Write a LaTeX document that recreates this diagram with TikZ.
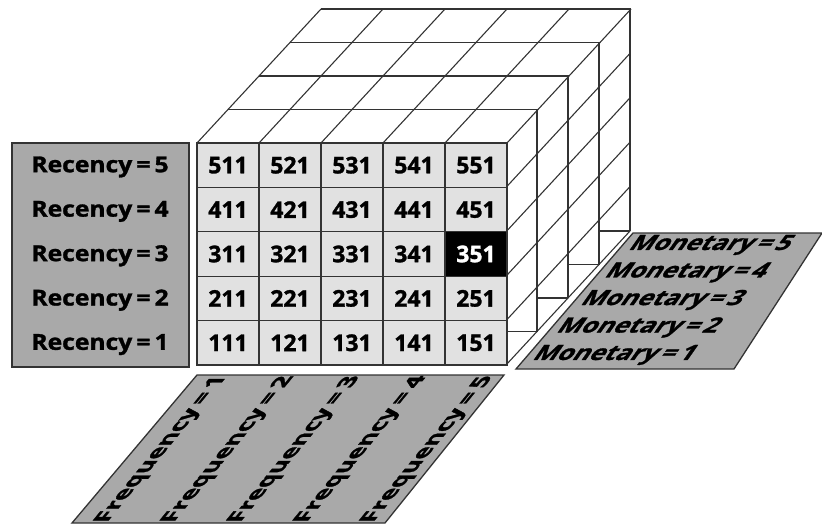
\documentclass[tikz,border=0pt]{standalone}
\usepackage{fontspec}
\setmainfont{Open Sans}[BoldFeatures={FakeBold=1.3}]
\definecolor{platefill}{HTML}{A9A9A9}
\definecolor{cellfill}{HTML}{E1E1E1}
\definecolor{wirecol}{HTML}{333333}
\begin{document}
\begin{tikzpicture}[x=1pt,y=-1pt,
cell/.style={draw=wirecol,line width=1.3pt,fill=cellfill,minimum width=62pt,minimum height=44.4pt,inner sep=0pt,outer sep=0pt,font=\fontsize{23}{23}\selectfont\bfseries},
wire/.style={draw=wirecol,line width=1.1pt},
plate/.style={fill=platefill,draw=wirecol,line width=1.3pt},
rlabel/.style={inner sep=0pt,xscale=1.12,font=\fontsize{22}{22}\selectfont\bfseries},
flabel/.style={inner sep=0pt,xslant=0.82,rotate=90,font=\fontsize{22}{22}\selectfont\bfseries},
mlabel/.style={inner sep=0pt,xslant=0.7,xscale=1.2,font=\fontsize{21}{21}\selectfont\bfseries}]
\useasboundingbox (0,0) rectangle (822,527);
\foreach \k in {1,...,4} {
\draw[wire] ({197+31*\k},{143-33.5*\k}) -- ({506+31*\k},{143-33.5*\k}) -- ({506+31*\k},{365-33.5*\k});
}
\foreach \i in {0,...,5} {
\draw[wire] ({197+62*\i},143) -- ({321+62*\i},9);
}
\foreach \j in {1,...,5} {
\draw[wire] (506,{143+44.4*\j}) -- (630,{9+44.4*\j});
}
\foreach \k in {0,...,3} {
\draw[wire] ({506+31*\k},{331.5-33.5*\k}) -- ({537+31*\k},{331.5-33.5*\k});
}
\foreach \r in {1,2,4,5} {
\foreach \f in {1,...,5} {
\node[cell] (c\r\f) at ({166+62*\f},{387.2-44.4*\r}) {\r\f1};
}}
\foreach \f in {1,...,4} {
\node[cell] (c3\f) at ({166+62*\f},254) {3\f1};
}
\node[cell,fill=black,text=white] (c35) at (476,254) {351};
\draw[plate] (12,143) rectangle (189,367);
\foreach \r in {1,...,5} {
\node[rlabel] (rec\r) at (100,{389-44.4*\r}) {Recency\,=\,\r};
}
\draw[plate] (197,375) -- (504,375) -- (385,523) -- (72,523) -- cycle;
\foreach \f in {1,...,5} {
\node[flabel] (freq\f) at ({95.5+66.5*\f},449) {Frequency\,=\,\f};
}
\draw[plate] (633,233) -- (822,233) -- (734,369) -- (516,369) -- cycle;
\foreach \m in {1,...,5} {
\node[mlabel] (mon\m) at ({591+24*\m},{382.5-27.5*\m}) {Monetary\,=\,\m};
}
\end{tikzpicture}
\end{document}
